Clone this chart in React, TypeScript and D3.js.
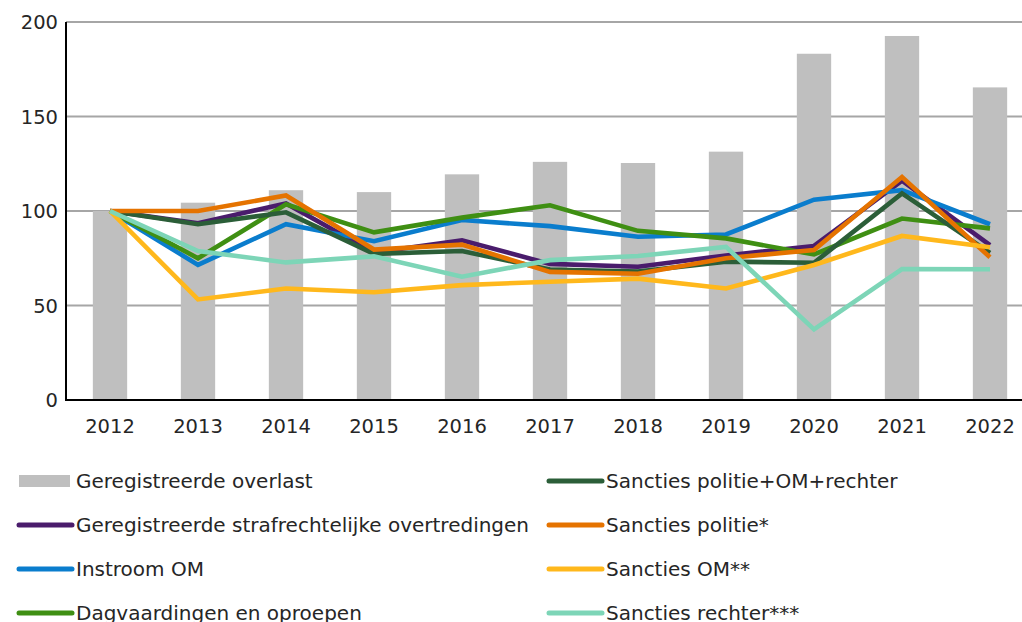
import React from "react";
import * as d3 from "d3";

const years = ["2012","2013","2014","2015","2016","2017","2018","2019","2020","2021","2022"];
const overlast = [100, 104.4, 111, 110, 119.4, 126, 125.4, 131.4, 183.2, 192.6, 165.4];
const strafrechtelijk = [100, 93.5, 104, 78, 84.5, 72, 70.5, 76.5, 81.5, 116, 82];
const instroomOM = [100, 71.5, 93, 84, 95.2, 92, 86.4, 87.6, 106, 111, 93];
const dagvaardingen = [100, 75, 103.5, 88.7, 96.5, 103, 89.5, 85.5, 77, 96, 90.8];
const sanctiesTotaal = [100, 93, 99.3, 77.3, 78.8, 69, 68, 73.2, 72.6, 109.3, 77.8];
const sanctiesPolitie = [100, 100, 108.2, 79.6, 82.2, 67.8, 66.8, 75, 79.4, 118, 75.5];
const sanctiesOM = [100, 53.2, 59, 57, 60.8, 62.6, 64.2, 59, 71.4, 86.8, 80.8];
const sanctiesRechter = [100, 78.8, 72.8, 76, 65.2, 74, 76.2, 81, 37.4, 69.3, 69.2];
const yTicks = [0, 50, 100, 150, 200];

const lineSeries = [
  { name: "Geregistreerde strafrechtelijke overtredingen", values: strafrechtelijk, color: "#4a1c6c" },
  { name: "Instroom OM", values: instroomOM, color: "#0a7dcd" },
  { name: "Dagvaardingen en oproepen", values: dagvaardingen, color: "#3f8f13" },
  { name: "Sancties politie+OM+rechter", values: sanctiesTotaal, color: "#2b5e38" },
  { name: "Sancties politie*", values: sanctiesPolitie, color: "#e57300" },
  { name: "Sancties OM**", values: sanctiesOM, color: "#ffb81c" },
  { name: "Sancties rechter***", values: sanctiesRechter, color: "#7dd5b7" },
];

const legendItems = [
  { name: "Geregistreerde overlast", color: "#bfbfbf", bar: true },
  ...lineSeries.map((s) => ({ name: s.name, color: s.color, bar: false })),
];

export default function App() {
  const W = 1022, H = 622;
  const left = 66, right = 1034, top = 22, bottom = 400;
  const x = d3.scaleBand<string>().domain(years).range([left, right]).paddingInner(0.61).paddingOuter(0.305);
  const y = d3.scaleLinear().domain([0, 200]).range([bottom, top]);
  const cx = (yr: string) => (x(yr) as number) + x.bandwidth() / 2;
  const line = d3.line<number>().x((_, i) => cx(years[i])).y((v) => y(v));
  const font = "Verdana, 'DejaVu Sans', sans-serif";
  const fs = 19.5;
  const lfs = 20;

  const legendPos = (i: number) => {
    const col = i < 4 ? 0 : 1;
    const row = i % 4;
    return { x: col === 0 ? 19 : 549, y: 481 + row * 44 };
  };

  return (
    <svg width={W} height={H} style={{ position: "absolute", left: 0, top: 0, background: "#fff" }} fontFamily={font}>
      {yTicks.filter((t) => t > 0).map((t) => (
        <line key={t} x1={left} x2={W} y1={y(t)} y2={y(t)} stroke="#a6a6a6" strokeWidth={2} />
      ))}
      {years.map((yr, i) => (
        <rect key={yr} x={x(yr)} y={y(overlast[i])} width={x.bandwidth()} height={y(0) - y(overlast[i])} fill="#bfbfbf" />
      ))}
      <line x1={left} x2={W} y1={y(0)} y2={y(0)} stroke="#000" strokeWidth={2} />
      <line x1={left} x2={left} y1={top} y2={y(0) + 1} stroke="#000" strokeWidth={2} />
      {lineSeries.map((s) => (
        <path key={s.name} d={line(s.values) || ""} fill="none" stroke={s.color} strokeWidth={4.6} strokeLinejoin="miter" />
      ))}
      {yTicks.map((t) => (
        <text key={t} x={58} y={y(t)} dy="0.36em" textAnchor="end" fontSize={fs} fill="#262626">{t}</text>
      ))}
      {years.map((yr) => (
        <text key={yr} x={cx(yr)} y={433} textAnchor="middle" fontSize={fs} fill="#262626">{yr}</text>
      ))}
      {legendItems.map((it, i) => {
        const p = legendPos(i);
        return (
          <g key={it.name}>
            {it.bar ? (
              <rect x={p.x} y={p.y - 6} width={51} height={12} fill={it.color} />
            ) : (
              <line x1={p.x} x2={p.x + 53} y1={p.y} y2={p.y} stroke={it.color} strokeWidth={5} strokeLinecap="round" />
            )}
            <text x={p.x + 57} y={p.y} dy="0.36em" fontSize={lfs} fill="#262626">{it.name}</text>
          </g>
        );
      })}
    </svg>
  );
}
